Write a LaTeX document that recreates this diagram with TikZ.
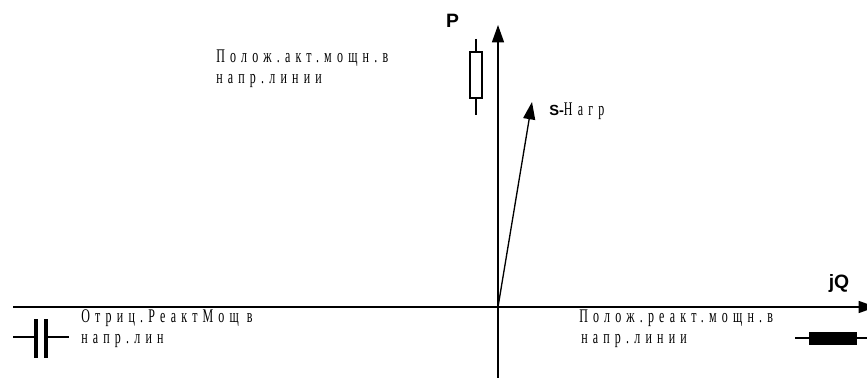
\documentclass[tikz,border=0pt]{standalone}
\usepackage{fontspec}
\setmainfont{Liberation Serif}
\newfontfamily\labelsans{Liberation Sans}
\newfontfamily\spacedserif[FakeStretch=0.62,LetterSpace=27]{Liberation Serif}
\usetikzlibrary{arrows.meta, positioning, calc, fit}

\tikzset{
  axisline/.style={line width=1pt, -{Triangle[length=13pt,width=9pt]}},
  wireline/.style={line width=0.9pt},
  spaced/.style={align=left, inner sep=0pt, anchor=west, font=\fontsize{14.5}{14.5}\selectfont\spacedserif},
  axislabel/.style={inner sep=0pt, font=\fontsize{14.5}{16}\selectfont\labelsans\bfseries},
}

\begin{document}
\begin{tikzpicture}[x=0.75pt, y=-0.75pt]
\useasboundingbox (0,0) rectangle (867,378);
\coordinate (origin) at (498,307);
\coordinate (qstart) at (13,307);
\coordinate (qend) at (876,307);
\coordinate (pstart) at (498,378);
\coordinate (pend) at (498,25);
\coordinate (send) at (532,102);

% axes and load vector
\draw[axisline] (qstart) -- (qend);
\draw[axisline] (pstart) -- (pend);
\draw[axisline] (origin) -- (send);

\node[axislabel] (plabel) at (452.5,21) {P};
\node[axislabel] (qlabel) at (839,283) {jQ};
\node[spaced] (sload) at (549,111) {{\fontsize{11}{12}\selectfont\labelsans\bfseries S-}Нагр};

\node[spaced] (posp) at (216,58) {Полож.акт.мощн.в};
\node[spaced] (pospb) at (216,81) {напр.линии};
\node[spaced] (negq) at (81,318) {Отриц.РеактМощ в};
\node[spaced] (negqb) at (81,341) {напр.лин};
\node[spaced] (posq) at (579,318) {Полож.реакт.мощн.в};
\node[spaced] (posqb) at (581,341) {напр.линии};

% white resistor
\node[draw, line width=0.9pt, minimum width=9pt, minimum height=34.5pt, inner sep=0pt] (rwhite) at (476,75) {};
\coordinate (rtop) at (476,39);
\coordinate (rbot) at (476,115);
\draw[wireline] (rtop) -- (rwhite.north);
\draw[wireline] (rwhite.south) -- (rbot);

% capacitor
\coordinate (cleft) at (13,337);
\coordinate (cright) at (69,337);
\coordinate (plateat) at (36,319);
\coordinate (platebt) at (36,358);
\coordinate (platect) at (46,319);
\coordinate (platedt) at (46,358);
\draw[wireline] (cleft) -- (36,337);
\draw[wireline] (46,337) -- (cright);
\draw[line width=2.8pt] (plateat) -- (platebt);
\draw[line width=2.8pt] (platect) -- (platedt);

% black resistor
\node[draw, fill=black, minimum width=35pt, minimum height=9pt, inner sep=0pt] (rblack) at (832.5,338) {};
\coordinate (bleft) at (795,338);
\coordinate (bright) at (867,338);
\draw[wireline] (bleft) -- (rblack.west);
\draw[wireline] (rblack.east) -- (bright);
\end{tikzpicture}
\end{document}
